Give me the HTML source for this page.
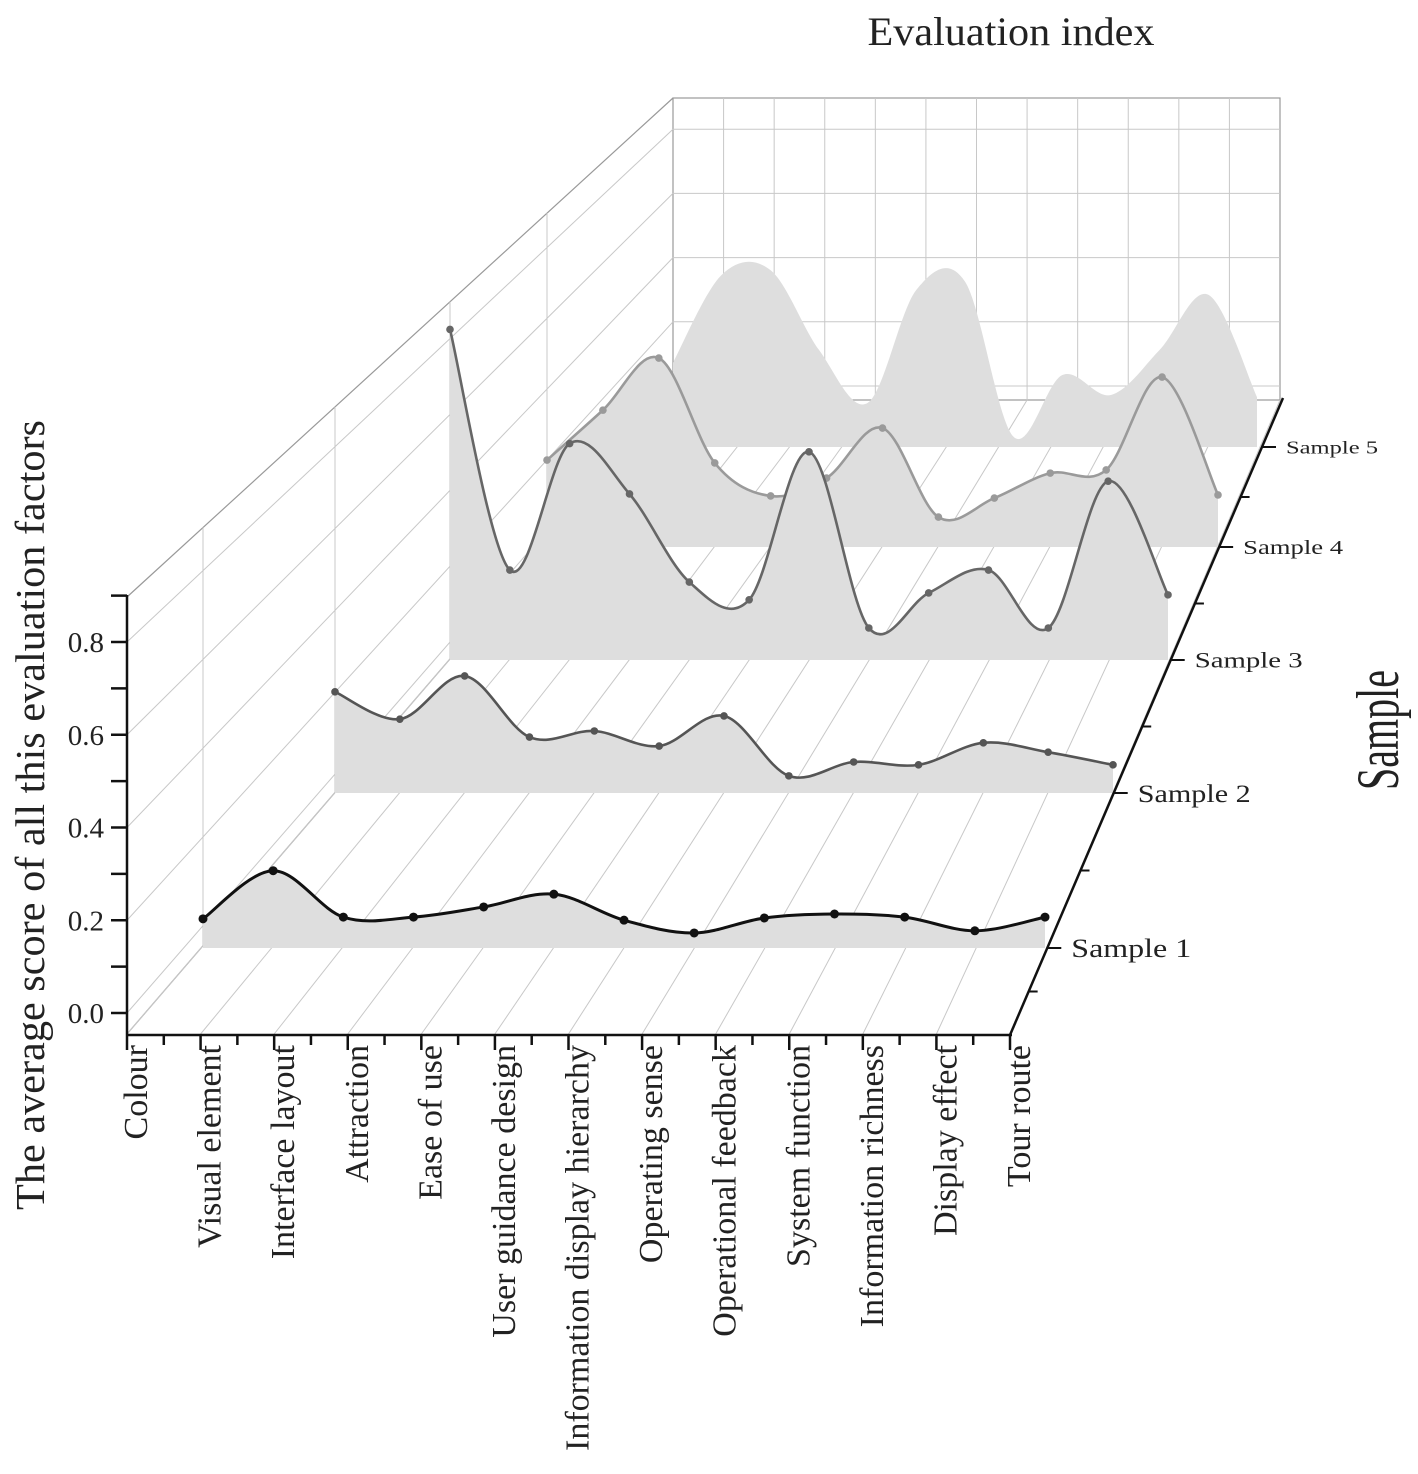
<!DOCTYPE html>
<html><head><meta charset="utf-8"><style>
html,body{margin:0;padding:0;background:#fff;}
svg{display:block;font-family:"Liberation Serif",serif;}
</style></head><body>
<svg id="chart" width="1418" height="1474" viewBox="0 0 1418 1474" xmlns="http://www.w3.org/2000/svg">
<text x="1011" y="45" font-size="40" text-anchor="middle" fill="#222" textLength="287" lengthAdjust="spacingAndGlyphs">Evaluation index</text>
<text transform="translate(44,815) rotate(-90)" font-size="41" text-anchor="middle" fill="#222" textLength="790" lengthAdjust="spacingAndGlyphs">The average score of all this evaluation factors</text>
<text transform="translate(1398,730) rotate(-90)" font-size="60" text-anchor="middle" fill="#222" textLength="120" lengthAdjust="spacingAndGlyphs">Sample</text>
<g id="grid"></g><g id="series"></g><g id="axes"></g>
</svg>
<script>
const categories=["Colour","Visual element","Interface layout","Attraction","Ease of use","User guidance design","Information display hierarchy","Operating sense","Operational feedback","System function","Information richness","Display effect","Tour route"];
const sampleNames=["Sample 1","Sample 2","Sample 3","Sample 4","Sample 5"];
const yTicks=[0,0.2,0.4,0.6,0.8];
const yTickLabels=["0.0","0.2","0.4","0.6","0.8"];
const sample1=[0.066,0.175,0.070,0.070,0.093,0.122,0.063,0.034,0.068,0.077,0.070,0.039,0.070];
const sample2=[0.248,0.181,0.287,0.137,0.152,0.115,0.189,0.042,0.076,0.069,0.123,0.100,0.069];
const sample3=[0.878,0.239,0.575,0.441,0.207,0.160,0.553,0.085,0.178,0.239,0.085,0.475,0.173];
const sample4=[0.247,0.389,0.537,0.239,0.145,0.196,0.338,0.085,0.139,0.210,0.219,0.483,0.148];
const sample5=[0.275,0.562,0.578,0.317,0.144,0.513,0.540,0.033,0.235,0.170,0.317,0.497,0.163];
const seriesValues=[sample1,sample2,sample3,sample4,sample5];

const NS="http://www.w3.org/2000/svg";
const planes=[{yb:948,x0:203,x1:1045},{yb:793,x0:335,x1:1113},{yb:660,x0:450,x1:1168},{yb:547,x0:547,x1:1218},{yb:447,x0:673,x1:1257}];
const lineColors=["#111","#555","#666","#9a9a9a",null];
const FRONT_W=883, PXU=463;
function xPos(k,i){const p=planes[k];return p.x0+(p.x1-p.x0)*i/(categories.length-1);}
function yPos(k,v){const p=planes[k];return p.yb-v*PXU*(p.x1-p.x0)/FRONT_W;}
function yFront(v){return 1013-v*463.75;}
function yBack(v){return 386-v*321;}
function mk(tag,attrs,parent){const e=document.createElementNS(NS,tag);for(const k in attrs)e.setAttribute(k,attrs[k]);parent.appendChild(e);return e;}
const grid=document.getElementById('grid'),ser=document.getElementById('series'),axes=document.getElementById('axes');
const GC="#c8c8c8";
let bw=mk('rect',{x:673,y:98,width:607,height:302,fill:'none',stroke:'#999','stroke-width':1.2},grid);


for(let i=1;i<12;i++){const x=673+607*i/12;let l=mk('line',{x1:x,y1:98,x2:x,y2:400,stroke:GC},grid);

}
yTicks.forEach(v=>{let l=mk('line',{x1:673,y1:yBack(v),x2:1280,y2:yBack(v),stroke:GC},grid);


let d=mk('line',{x1:127,y1:yFront(v),x2:673,y2:yBack(v),stroke:GC},grid);

});
[[127,597,673,98],[127,1034,673,400]].forEach(a=>{let l=mk('line',{x1:a[0],y1:a[1],x2:a[2],y2:a[3],stroke:'#999','stroke-width':1.2},grid);

});
planes.forEach((p,k)=>{if(k===4)return;const t=(p.x0-127)/546;const top=597-t*499;const bot=1034-t*634;
let l=mk('line',{x1:p.x0,y1:top,x2:p.x0,y2:bot,stroke:GC},grid);

});
for(let i=0;i<=12;i++){const xf=127+883*i/12,xb=673+607*i/12;let l=mk('line',{x1:xf,y1:1034,x2:xb,y2:400,stroke:GC},grid);

}
function smooth(pts){let d="M"+pts[0][0]+","+pts[0][1];for(let i=0;i<pts.length-1;i++){const p0=pts[i-1]||pts[i],p1=pts[i],p2=pts[i+1],p3=pts[i+2]||p2;
const c1=[p1[0]+(p2[0]-p0[0])/6,p1[1]+(p2[1]-p0[1])/6],c2=[p2[0]-(p3[0]-p1[0])/6,p2[1]-(p3[1]-p1[1])/6];
d+=" C"+c1[0]+","+c1[1]+" "+c2[0]+","+c2[1]+" "+p2[0]+","+p2[1];}return d;}
for(let k=seriesValues.length-1;k>=0;k--){
 const vals=seriesValues[k];const pts=vals.map((v,i)=>[xPos(k,i),yPos(k,v)]);
 const g=mk('g',{},ser);
 
 
 const c=smooth(pts);const p=planes[k];
 const f=mk('path',{d:c+" L"+p.x1+","+p.yb+" L"+p.x0+","+p.yb+" Z",fill:'#dedede',stroke:'none'},g);
 
 
 if(lineColors[k]){
  const l=mk('path',{d:c,fill:'none',stroke:lineColors[k],'stroke-width':k===0?3:2.6},g);
  
  
  pts.forEach(q=>{const m=mk('circle',{cx:q[0],cy:q[1],r:k===0?4.5:3.8,fill:lineColors[k]},g);
  
  });
 }
}
let ya=mk('line',{x1:127,y1:595,x2:127,y2:1035,stroke:'#111','stroke-width':2.5},axes);


for(let j=0;j<=9;j++){const y=yFront(j*0.1);let t=mk('line',{x1:111,y1:y,x2:127,y2:y,stroke:'#111','stroke-width':2.5},axes);

}
yTicks.forEach((v,i)=>{const t=mk('text',{x:104,y:yFront(v)+10,'font-size':29,'text-anchor':'end',fill:'#222'},axes);t.textContent=yTickLabels[i];

});
let xa=mk('line',{x1:126,y1:1035,x2:1012,y2:1035,stroke:'#111','stroke-width':2.5},axes);


for(let i=0;i<=24;i++){const x=127+883*i/24;let t=mk('line',{x1:x,y1:1035,x2:x,y2:i%2?1045:1050,stroke:'#111','stroke-width':2.5},axes);

}
categories.forEach((c,i)=>{const x=127+883*i/12+20;const t=mk('text',{transform:`translate(${x},1045) rotate(-90)`,'font-size':34,'text-anchor':'end',fill:'#222'},axes);t.textContent=c;

});
let za=mk('line',{x1:1010,y1:1035,x2:1283,y2:398,stroke:'#111','stroke-width':2.5},axes);


function zx(y){return 1010+(1035-y)*273/637;}
const fs=[26,25,22,20,18];
const tl=[120,113,108,100,92];
planes.forEach((p,k)=>{const x=zx(p.yb);let t=mk('line',{x1:x,y1:p.yb,x2:x+14,y2:p.yb,stroke:'#111','stroke-width':2},axes);


const lb=mk('text',{x:x+24,y:p.yb+fs[k]*0.35,'font-size':fs[k],fill:'#222',textLength:tl[k],lengthAdjust:'spacingAndGlyphs'},axes);lb.textContent=sampleNames[k];


if(k<4){const ny=(p.yb+planes[k+1].yb)/2;const mx=zx(ny);let m=mk('line',{x1:mx,y1:ny,x2:mx+9,y2:ny,stroke:'#111','stroke-width':2},axes);

}});
{const ny=(1035+948)/2;const mx=zx(ny);let m=mk('line',{x1:mx,y1:ny,x2:mx+9,y2:ny,stroke:'#111','stroke-width':2},axes);

}
</script>
</body></html>
